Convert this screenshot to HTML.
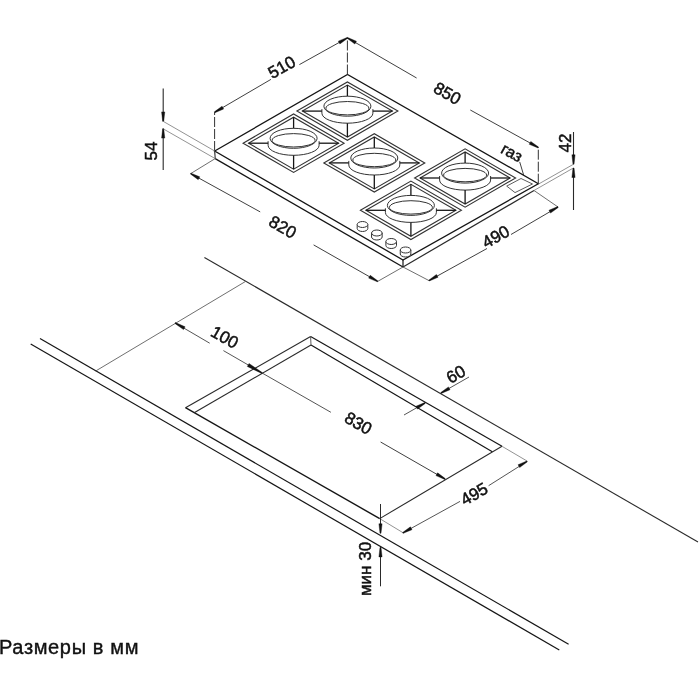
<!DOCTYPE html>
<html><head><meta charset="utf-8"><style>
html,body{margin:0;padding:0;background:#fff;width:700px;height:700px;overflow:hidden}
svg{display:block;position:absolute;left:0;top:0;will-change:transform}
text{font-family:"Liberation Sans",sans-serif}
.cap{position:absolute;left:0;top:636px;font-family:"Liberation Sans",sans-serif;font-size:18px;color:#111;white-space:nowrap}
</style></head><body>
<svg width="700" height="700" viewBox="0 0 700 700">
<polygon points="214.70,151.00 347.50,74.50 538.30,183.70 403.00,260.00" fill="none" stroke="#151515" stroke-width="1.3" stroke-linejoin="miter"/>
<line x1="214.70" y1="151.00" x2="215.20" y2="158.60" stroke="#2a2a2a" stroke-width="1.1" />
<line x1="403.00" y1="260.00" x2="403.00" y2="267.00" stroke="#151515" stroke-width="1.2" />
<line x1="215.20" y1="158.60" x2="403.00" y2="267.00" stroke="#151515" stroke-width="1.3" />
<line x1="403.00" y1="267.00" x2="534.00" y2="190.50" stroke="#2a2a2a" stroke-width="1.2" />
<polygon points="296.90,111.10 347.40,81.90 397.90,111.10 347.40,140.30" fill="#fff" stroke="#333" stroke-width="1.1" stroke-linejoin="miter"/>
<polygon points="302.40,111.10 347.40,85.10 392.40,111.10 347.40,137.10" fill="none" stroke="#333" stroke-width="1.1" stroke-linejoin="miter"/>
<path d="M321.90,109.10 L321.90,113.20 A25.5,10 0 0 0 372.90,113.20 L372.90,109.10" fill="#fff" stroke="#333" stroke-width="1.0"/>
<ellipse cx="347.40" cy="106.20" rx="23.50" ry="10.00" fill="#fff" stroke="#333" stroke-width="1.0"/>
<ellipse cx="347.40" cy="108.20" rx="21.50" ry="6.70" fill="none" stroke="#333" stroke-width="1.0"/>
<line x1="302.40" y1="111.10" x2="321.90" y2="111.10" stroke="#151515" stroke-width="1.3" />
<line x1="372.90" y1="111.10" x2="392.40" y2="111.10" stroke="#151515" stroke-width="1.3" />
<line x1="347.40" y1="85.10" x2="347.40" y2="96.20" stroke="#151515" stroke-width="1.3" />
<line x1="347.40" y1="123.20" x2="347.40" y2="137.10" stroke="#151515" stroke-width="1.3" />
<polygon points="243.10,143.20 293.60,114.00 344.10,143.20 293.60,172.40" fill="#fff" stroke="#333" stroke-width="1.1" stroke-linejoin="miter"/>
<polygon points="248.60,143.20 293.60,117.20 338.60,143.20 293.60,169.20" fill="none" stroke="#333" stroke-width="1.1" stroke-linejoin="miter"/>
<path d="M268.10,141.20 L268.10,145.30 A25.5,10 0 0 0 319.10,145.30 L319.10,141.20" fill="#fff" stroke="#333" stroke-width="1.0"/>
<ellipse cx="293.60" cy="138.30" rx="23.50" ry="10.00" fill="#fff" stroke="#333" stroke-width="1.0"/>
<ellipse cx="293.60" cy="140.30" rx="21.50" ry="6.70" fill="none" stroke="#333" stroke-width="1.0"/>
<line x1="248.60" y1="143.20" x2="268.10" y2="143.20" stroke="#151515" stroke-width="1.3" />
<line x1="319.10" y1="143.20" x2="338.60" y2="143.20" stroke="#151515" stroke-width="1.3" />
<line x1="293.60" y1="117.20" x2="293.60" y2="128.30" stroke="#151515" stroke-width="1.3" />
<line x1="293.60" y1="155.30" x2="293.60" y2="169.20" stroke="#151515" stroke-width="1.3" />
<polygon points="323.80,162.90 374.30,133.70 424.80,162.90 374.30,192.10" fill="#fff" stroke="#333" stroke-width="1.1" stroke-linejoin="miter"/>
<polygon points="329.30,162.90 374.30,136.90 419.30,162.90 374.30,188.90" fill="none" stroke="#333" stroke-width="1.1" stroke-linejoin="miter"/>
<path d="M348.80,160.90 L348.80,165.00 A25.5,10 0 0 0 399.80,165.00 L399.80,160.90" fill="#fff" stroke="#333" stroke-width="1.0"/>
<ellipse cx="374.30" cy="158.00" rx="23.50" ry="10.00" fill="#fff" stroke="#333" stroke-width="1.0"/>
<ellipse cx="374.30" cy="160.00" rx="21.50" ry="6.70" fill="none" stroke="#333" stroke-width="1.0"/>
<line x1="329.30" y1="162.90" x2="348.80" y2="162.90" stroke="#151515" stroke-width="1.3" />
<line x1="399.80" y1="162.90" x2="419.30" y2="162.90" stroke="#151515" stroke-width="1.3" />
<line x1="374.30" y1="136.90" x2="374.30" y2="148.00" stroke="#151515" stroke-width="1.3" />
<line x1="374.30" y1="175.00" x2="374.30" y2="188.90" stroke="#151515" stroke-width="1.3" />
<polygon points="414.60,178.00 465.10,148.80 515.60,178.00 465.10,207.20" fill="#fff" stroke="#333" stroke-width="1.1" stroke-linejoin="miter"/>
<polygon points="420.10,178.00 465.10,152.00 510.10,178.00 465.10,204.00" fill="none" stroke="#333" stroke-width="1.1" stroke-linejoin="miter"/>
<path d="M439.60,176.00 L439.60,180.10 A25.5,10 0 0 0 490.60,180.10 L490.60,176.00" fill="#fff" stroke="#333" stroke-width="1.0"/>
<ellipse cx="465.10" cy="173.10" rx="23.50" ry="10.00" fill="#fff" stroke="#333" stroke-width="1.0"/>
<ellipse cx="465.10" cy="175.10" rx="21.50" ry="6.70" fill="none" stroke="#333" stroke-width="1.0"/>
<line x1="420.10" y1="178.00" x2="439.60" y2="178.00" stroke="#151515" stroke-width="1.3" />
<line x1="490.60" y1="178.00" x2="510.10" y2="178.00" stroke="#151515" stroke-width="1.3" />
<line x1="465.10" y1="152.00" x2="465.10" y2="163.10" stroke="#151515" stroke-width="1.3" />
<line x1="465.10" y1="190.10" x2="465.10" y2="204.00" stroke="#151515" stroke-width="1.3" />
<polygon points="360.40,210.30 410.90,181.10 461.40,210.30 410.90,239.50" fill="#fff" stroke="#333" stroke-width="1.1" stroke-linejoin="miter"/>
<polygon points="365.90,210.30 410.90,184.30 455.90,210.30 410.90,236.30" fill="none" stroke="#333" stroke-width="1.1" stroke-linejoin="miter"/>
<path d="M385.40,208.30 L385.40,212.40 A25.5,10 0 0 0 436.40,212.40 L436.40,208.30" fill="#fff" stroke="#333" stroke-width="1.0"/>
<ellipse cx="410.90" cy="205.40" rx="23.50" ry="10.00" fill="#fff" stroke="#333" stroke-width="1.0"/>
<ellipse cx="410.90" cy="207.40" rx="21.50" ry="6.70" fill="none" stroke="#333" stroke-width="1.0"/>
<line x1="365.90" y1="210.30" x2="385.40" y2="210.30" stroke="#151515" stroke-width="1.3" />
<line x1="436.40" y1="210.30" x2="455.90" y2="210.30" stroke="#151515" stroke-width="1.3" />
<line x1="410.90" y1="184.30" x2="410.90" y2="195.40" stroke="#151515" stroke-width="1.3" />
<line x1="410.90" y1="222.40" x2="410.90" y2="236.30" stroke="#151515" stroke-width="1.3" />
<path d="M357.20,224.50 L357.20,228.50 A5.3,3 0 0 0 367.80,228.50 L367.80,224.50" fill="#fff" stroke="#333" stroke-width="1.0"/>
<ellipse cx="362.50" cy="224.50" rx="5.30" ry="3.00" fill="#fff" stroke="#333" stroke-width="1.0"/>
<path d="M371.55,233.00 L371.55,237.00 A5.3,3 0 0 0 382.15,237.00 L382.15,233.00" fill="#fff" stroke="#333" stroke-width="1.0"/>
<ellipse cx="376.85" cy="233.00" rx="5.30" ry="3.00" fill="#fff" stroke="#333" stroke-width="1.0"/>
<path d="M385.90,241.50 L385.90,245.50 A5.3,3 0 0 0 396.50,245.50 L396.50,241.50" fill="#fff" stroke="#333" stroke-width="1.0"/>
<ellipse cx="391.20" cy="241.50" rx="5.30" ry="3.00" fill="#fff" stroke="#333" stroke-width="1.0"/>
<path d="M400.25,250.00 L400.25,254.00 A5.3,3 0 0 0 410.85,254.00 L410.85,250.00" fill="#fff" stroke="#333" stroke-width="1.0"/>
<ellipse cx="405.55" cy="250.00" rx="5.30" ry="3.00" fill="#fff" stroke="#333" stroke-width="1.0"/>
<polygon points="506.70,186.10 521.00,178.50 532.50,184.00 515.00,192.60" fill="none" stroke="#4a4a4a" stroke-width="0.9" stroke-linejoin="miter"/>
<line x1="214.60" y1="151.00" x2="214.60" y2="112.30" stroke="#333" stroke-width="1.0" stroke-dasharray="10 2"/>
<line x1="347.40" y1="74.50" x2="347.40" y2="37.90" stroke="#333" stroke-width="1.0" stroke-dasharray="10 2"/>
<line x1="214.60" y1="112.30" x2="270.90" y2="79.40" stroke="#2a2a2a" stroke-width="0.9" />
<line x1="299.40" y1="64.60" x2="347.40" y2="37.90" stroke="#2a2a2a" stroke-width="0.9" />
<polygon points="214.35,111.87 222.05,106.20 223.64,108.98 214.85,112.73" fill="#111" stroke="#111" stroke-width="0.4" stroke-linejoin="round"/>
<polygon points="347.64,38.34 339.89,43.93 338.33,41.13 347.16,37.46" fill="#111" stroke="#111" stroke-width="0.4" stroke-linejoin="round"/>
<text x="282.00" y="67.50" transform="rotate(-29.50 282.00 67.50)" font-size="17" fill="#111" stroke="#111" stroke-width="0.5" text-anchor="middle" dominant-baseline="central">510</text>
<line x1="347.40" y1="37.90" x2="416.60" y2="78.00" stroke="#2a2a2a" stroke-width="0.9" />
<line x1="470.30" y1="110.00" x2="538.30" y2="147.50" stroke="#2a2a2a" stroke-width="0.9" />
<polygon points="347.65,37.47 356.43,41.25 354.84,44.02 347.15,38.33" fill="#111" stroke="#111" stroke-width="0.4" stroke-linejoin="round"/>
<polygon points="538.06,147.94 529.22,144.29 530.77,141.49 538.54,147.06" fill="#111" stroke="#111" stroke-width="0.4" stroke-linejoin="round"/>
<line x1="538.30" y1="183.70" x2="538.30" y2="147.50" stroke="#333" stroke-width="1.0" stroke-dasharray="10 2"/>
<text x="447.20" y="93.60" transform="rotate(29.50 447.20 93.60)" font-size="17" fill="#111" stroke="#111" stroke-width="0.5" text-anchor="middle" dominant-baseline="central">850</text>
<line x1="215.20" y1="158.60" x2="190.70" y2="173.60" stroke="#4a4a4a" stroke-width="0.8" />
<line x1="403.00" y1="267.00" x2="377.70" y2="281.40" stroke="#4a4a4a" stroke-width="0.8" />
<line x1="190.70" y1="173.60" x2="260.20" y2="211.90" stroke="#2a2a2a" stroke-width="0.9" />
<line x1="313.60" y1="244.90" x2="377.70" y2="281.40" stroke="#2a2a2a" stroke-width="0.9" />
<polygon points="190.94,173.16 199.77,176.86 198.20,179.65 190.46,174.04" fill="#111" stroke="#111" stroke-width="0.4" stroke-linejoin="round"/>
<polygon points="377.45,281.84 368.64,278.11 370.22,275.33 377.95,280.96" fill="#111" stroke="#111" stroke-width="0.4" stroke-linejoin="round"/>
<text x="282.60" y="227.30" transform="rotate(29.50 282.60 227.30)" font-size="17" fill="#111" stroke="#111" stroke-width="0.5" text-anchor="middle" dominant-baseline="central">820</text>
<line x1="403.00" y1="267.00" x2="429.00" y2="280.60" stroke="#4a4a4a" stroke-width="0.8" />
<line x1="534.00" y1="190.50" x2="558.00" y2="207.00" stroke="#4a4a4a" stroke-width="0.8" />
<line x1="429.00" y1="280.60" x2="487.00" y2="248.50" stroke="#2a2a2a" stroke-width="0.9" />
<line x1="511.00" y1="234.50" x2="558.00" y2="207.00" stroke="#2a2a2a" stroke-width="0.9" />
<polygon points="428.75,280.17 436.45,274.49 438.04,277.26 429.25,281.03" fill="#111" stroke="#111" stroke-width="0.4" stroke-linejoin="round"/>
<polygon points="558.25,207.44 550.52,213.08 548.95,210.29 557.75,206.56" fill="#111" stroke="#111" stroke-width="0.4" stroke-linejoin="round"/>
<text x="496.00" y="237.00" transform="rotate(-29.50 496.00 237.00)" font-size="17" fill="#111" stroke="#111" stroke-width="0.5" text-anchor="middle" dominant-baseline="central">490</text>
<line x1="163.20" y1="88.60" x2="163.20" y2="121.00" stroke="#2a2a2a" stroke-width="1.1" />
<line x1="163.20" y1="129.00" x2="163.20" y2="170.00" stroke="#2a2a2a" stroke-width="1.1" />
<polygon points="162.70,121.40 161.60,111.90 164.80,111.90 163.70,121.40" fill="#111" stroke="#111" stroke-width="0.4" stroke-linejoin="round"/>
<polygon points="163.70,128.60 164.80,138.10 161.60,138.10 162.70,128.60" fill="#111" stroke="#111" stroke-width="0.4" stroke-linejoin="round"/>
<line x1="163.50" y1="121.50" x2="214.70" y2="151.00" stroke="#777" stroke-width="0.8" />
<line x1="163.50" y1="129.00" x2="215.20" y2="158.60" stroke="#777" stroke-width="0.8" />
<text x="151.00" y="151.00" transform="rotate(-90.00 151.00 151.00)" font-size="17" fill="#111" stroke="#111" stroke-width="0.5" text-anchor="middle" dominant-baseline="central">54</text>
<line x1="573.50" y1="132.00" x2="573.50" y2="164.00" stroke="#2a2a2a" stroke-width="1.1" />
<line x1="573.50" y1="168.00" x2="573.50" y2="210.00" stroke="#2a2a2a" stroke-width="1.1" />
<polygon points="573.00,164.30 571.90,154.80 575.10,154.80 574.00,164.30" fill="#111" stroke="#111" stroke-width="0.4" stroke-linejoin="round"/>
<polygon points="574.00,168.00 575.10,177.50 571.90,177.50 573.00,168.00" fill="#111" stroke="#111" stroke-width="0.4" stroke-linejoin="round"/>
<line x1="538.30" y1="184.20" x2="573.00" y2="164.50" stroke="#777" stroke-width="0.8" />
<line x1="534.00" y1="190.50" x2="573.00" y2="168.20" stroke="#777" stroke-width="0.8" />
<text x="565.00" y="143.00" transform="rotate(-90.00 565.00 143.00)" font-size="17" fill="#111" stroke="#111" stroke-width="0.5" text-anchor="middle" dominant-baseline="central">42</text>
<text x="511.80" y="152.60" transform="rotate(29.00 511.80 152.60)" font-size="16" fill="#111" stroke="#111" stroke-width="0.5" text-anchor="middle" dominant-baseline="central">газ</text>
<line x1="519.70" y1="161.90" x2="523.90" y2="175.90" stroke="#2a2a2a" stroke-width="0.9" />
<line x1="204.40" y1="257.40" x2="698.00" y2="542.00" stroke="#2a2a2a" stroke-width="1.1" />
<line x1="40.00" y1="338.60" x2="568.60" y2="644.30" stroke="#151515" stroke-width="1.2" />
<line x1="30.70" y1="344.00" x2="559.30" y2="650.00" stroke="#151515" stroke-width="1.2" />
<line x1="95.70" y1="371.00" x2="245.60" y2="281.40" stroke="#4a4a4a" stroke-width="0.8" />
<line x1="185.50" y1="407.70" x2="310.60" y2="336.60" stroke="#2a2a2a" stroke-width="1.1" />
<line x1="310.60" y1="336.60" x2="502.00" y2="446.30" stroke="#151515" stroke-width="1.2" />
<line x1="502.00" y1="446.30" x2="379.70" y2="518.60" stroke="#2a2a2a" stroke-width="1.1" />
<line x1="379.70" y1="518.60" x2="185.50" y2="407.70" stroke="#151515" stroke-width="1.4" />
<line x1="194.60" y1="412.50" x2="311.00" y2="345.10" stroke="#2a2a2a" stroke-width="1.1" />
<line x1="311.00" y1="345.10" x2="492.30" y2="451.70" stroke="#151515" stroke-width="1.2" />
<line x1="310.60" y1="336.60" x2="311.00" y2="345.10" stroke="#4a4a4a" stroke-width="0.9" />
<line x1="175.20" y1="323.00" x2="209.70" y2="343.20" stroke="#2a2a2a" stroke-width="0.8" />
<line x1="223.40" y1="350.60" x2="261.40" y2="372.60" stroke="#2a2a2a" stroke-width="0.8" />
<polygon points="175.45,322.57 185.10,326.84 183.51,329.62 174.95,323.43" fill="#111" stroke="#111" stroke-width="0.4" stroke-linejoin="round"/>
<polygon points="261.75,373.43 247.31,366.44 249.02,363.50 262.25,372.57" fill="#111" stroke="#111" stroke-width="0.4" stroke-linejoin="round"/>
<text x="224.50" y="337.50" transform="rotate(29.50 224.50 337.50)" font-size="17" fill="#111" stroke="#111" stroke-width="0.5" text-anchor="middle" dominant-baseline="central">100</text>
<line x1="261.40" y1="372.60" x2="330.90" y2="412.30" stroke="#2a2a2a" stroke-width="0.8" />
<line x1="380.60" y1="442.00" x2="445.00" y2="479.00" stroke="#2a2a2a" stroke-width="0.9" />
<polygon points="444.75,479.43 435.98,475.62 437.58,472.85 445.25,478.57" fill="#111" stroke="#111" stroke-width="0.4" stroke-linejoin="round"/>
<text x="358.20" y="423.50" transform="rotate(29.50 358.20 423.50)" font-size="17" fill="#111" stroke="#111" stroke-width="0.5" text-anchor="middle" dominant-baseline="central">830</text>
<line x1="469.00" y1="377.00" x2="441.00" y2="393.00" stroke="#2a2a2a" stroke-width="0.8" />
<polygon points="440.75,392.57 448.45,386.90 450.04,389.68 441.25,393.43" fill="#111" stroke="#111" stroke-width="0.4" stroke-linejoin="round"/>
<line x1="404.00" y1="415.00" x2="425.00" y2="403.00" stroke="#2a2a2a" stroke-width="0.8" />
<polygon points="425.25,403.43 417.55,409.10 415.96,406.32 424.75,402.57" fill="#111" stroke="#111" stroke-width="0.4" stroke-linejoin="round"/>
<text x="456.00" y="374.50" transform="rotate(-29.50 456.00 374.50)" font-size="17" fill="#111" stroke="#111" stroke-width="0.5" text-anchor="middle" dominant-baseline="central">60</text>
<line x1="379.70" y1="518.60" x2="403.50" y2="533.00" stroke="#777" stroke-width="0.8" />
<line x1="502.00" y1="446.30" x2="527.00" y2="461.00" stroke="#777" stroke-width="0.8" />
<line x1="402.90" y1="532.90" x2="460.00" y2="501.40" stroke="#2a2a2a" stroke-width="0.8" />
<line x1="488.60" y1="485.70" x2="527.10" y2="461.40" stroke="#2a2a2a" stroke-width="0.8" />
<polygon points="402.66,532.46 410.41,526.86 411.97,529.65 403.14,533.34" fill="#111" stroke="#111" stroke-width="0.4" stroke-linejoin="round"/>
<polygon points="527.35,461.83 519.66,467.52 518.07,464.74 526.85,460.97" fill="#111" stroke="#111" stroke-width="0.4" stroke-linejoin="round"/>
<text x="474.30" y="494.30" transform="rotate(-29.50 474.30 494.30)" font-size="17" fill="#111" stroke="#111" stroke-width="0.5" text-anchor="middle" dominant-baseline="central">495</text>
<line x1="380.50" y1="504.00" x2="380.50" y2="533.00" stroke="#2a2a2a" stroke-width="1.0" />
<line x1="380.50" y1="547.40" x2="380.50" y2="586.30" stroke="#2a2a2a" stroke-width="1.0" />
<polygon points="380.00,533.30 378.90,523.80 382.10,523.80 381.00,533.30" fill="#111" stroke="#111" stroke-width="0.4" stroke-linejoin="round"/>
<polygon points="381.00,547.40 382.10,556.90 378.90,556.90 380.00,547.40" fill="#111" stroke="#111" stroke-width="0.4" stroke-linejoin="round"/>
<text x="365.30" y="569.00" transform="rotate(-90.00 365.30 569.00)" font-size="17" fill="#111" stroke="#111" stroke-width="0.5" text-anchor="middle" dominant-baseline="central">мин 30</text>
<text x="-1" y="654.3" font-size="20" fill="#111" stroke="#111" stroke-width="0.4" textLength="139.5" lengthAdjust="spacing">Размеры в мм</text>
</svg>
</body></html>
